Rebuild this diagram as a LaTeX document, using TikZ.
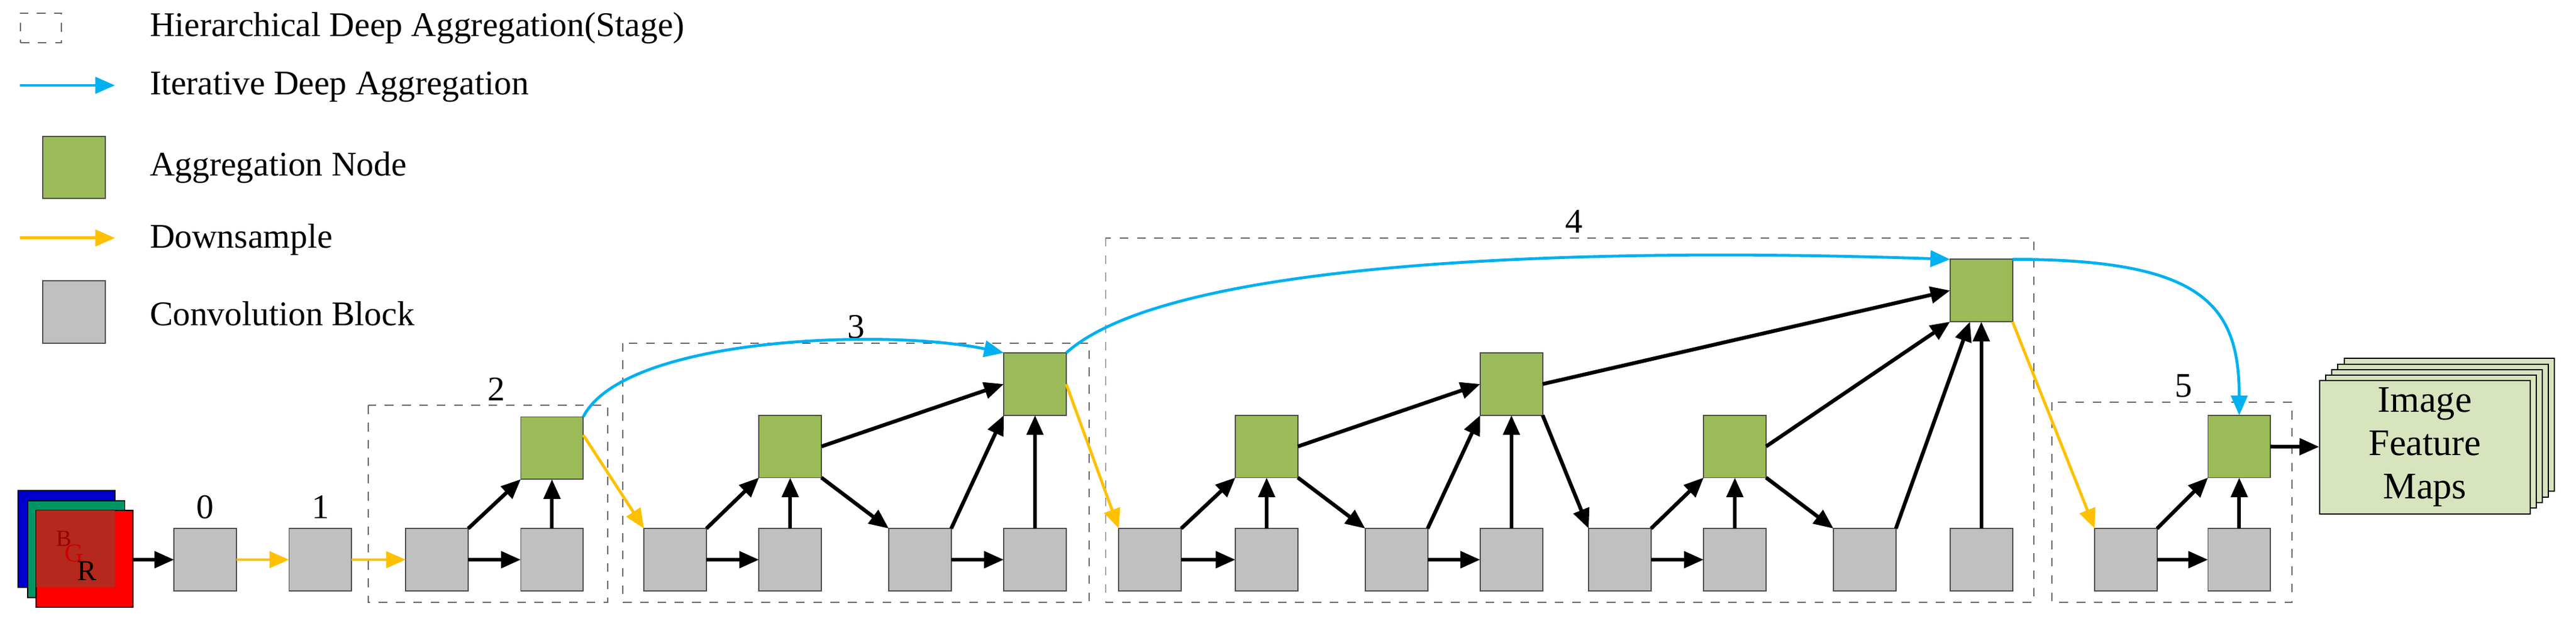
\documentclass[tikz,border=0pt]{standalone}
\usepackage{fontspec}
\setmainfont{Liberation Serif}
\usetikzlibrary{arrows.meta}
\definecolor{cgray}{HTML}{C0C0C0}
\definecolor{cgreen}{HTML}{9BBB59}
\definecolor{cyel}{HTML}{FFC000}
\definecolor{cblue}{HTML}{00B0F0}
\definecolor{cfeat}{HTML}{D7E4BD}
\begin{document}
\begin{tikzpicture}[x=0.02cm,y=-0.02cm,
  blk/.style={draw=black!70,line width=0.4pt,minimum size=0.76cm,inner sep=0,outer sep=0},
  conv/.style={blk,fill=cgray},
  agg/.style={blk,fill=cgreen},
  stage/.style={draw=black!60,dashed,line width=0.4pt},
  lab/.style={font=\fontsize{12}{14}\selectfont},
  ar/.style={line width=1.3pt,-{Triangle[length=2.4mm,width=2mm]}},
  bk/.style={ar,black},
  yl/.style={ar,cyel,line width=1pt},
  bl/.style={ar,cblue,line width=1pt}]
\useasboundingbox (0,0) rectangle (1568,378);
% legend
\node[stage,minimum width=0.5cm,minimum height=0.36cm] (l1) at (25,17) {};
\node[lab,anchor=west] (t1) at (85,17) {Hierarchical Deep Aggregation(Stage)};
\coordinate (l2a) at (12,52); \coordinate (l2b) at (70,52);
\draw[bl] (l2a) -- (l2b);
\node[lab,anchor=west] (t2) at (85,53) {Iterative Deep Aggregation};
\node[agg] (l3) at (45,102) {};
\node[lab,anchor=west] (t3) at (85,102) {Aggregation Node};
\coordinate (l4a) at (12,145); \coordinate (l4b) at (70,145);
\draw[yl] (l4a) -- (l4b);
\node[lab,anchor=west] (t4) at (85,146) {Downsample};
\node[conv] (l5) at (45,190) {};
\node[lab,anchor=west] (t5) at (85,191) {Convolution Block};
% stages
\draw[stage] (224,247) rectangle (370,367);
\draw[stage] (379,209) rectangle (663,367);
\draw[stage] (673,145) rectangle (1238,367);
\draw[stage] (1249,245) rectangle (1395,367);
\node[lab] (s0) at (125,309) {0};
\node[lab] (s1) at (195,309) {1};
\node[lab] (s2) at (302,237) {2};
\node[lab] (s3) at (521,199) {3};
\node[lab] (s4) at (958,135) {4};
\node[lab] (s5) at (1329,235) {5};
% input
\fill[fill=blue!80!black,draw=black] (11,299) rectangle (70,358);
\fill[fill={rgb,255:red,0;green,150;blue,100},draw=black] (17,305) rectangle (76,364);
\fill[fill=red,draw=black] (22,311) rectangle (81,370);
\fill[fill={rgb,255:red,180;green,40;blue,30}] (22,311) rectangle (70,358);
\node[font=\fontsize{8}{8}\selectfont,text=red!60!black,inner sep=0] (inB) at (39,328) {B};
\node[font=\fontsize{9}{9}\selectfont,text=red!80!black,inner sep=0] (inG) at (45,337) {G};
\node[font=\fontsize{10}{10}\selectfont,inner sep=0] (inR) at (53,348) {R};
\coordinate (in) at (81,341);
% blocks
\node[conv] (b0) at (125,341) {};
\node[conv] (b1) at (195,341) {};
\node[conv] (b2a) at (266,341) {};
\node[conv] (b2b) at (336,341) {};
\node[agg] (g2) at (336,273) {};
\node[conv] (b3a) at (411,341) {};
\node[conv] (b3b) at (481,341) {};
\node[conv] (b3c) at (560,341) {};
\node[conv] (b3d) at (630,341) {};
\node[agg] (g3a) at (481,272) {};
\node[agg] (g3b) at (630,234) {};
\node[conv] (b4a) at (700,341) {};
\node[conv] (b4b) at (771,341) {};
\node[conv] (b4c) at (850,341) {};
\node[conv] (b4d) at (920,341) {};
\node[conv] (b4e) at (986,341) {};
\node[conv] (b4f) at (1056,341) {};
\node[conv] (b4g) at (1135,341) {};
\node[conv] (b4h) at (1206,341) {};
\node[agg] (g4a) at (771,272) {};
\node[agg] (g4b) at (920,234) {};
\node[agg] (g4c) at (1056,272) {};
\node[agg] (g4d) at (1206,177) {};
\node[conv] (b5a) at (1294,341) {};
\node[conv] (b5b) at (1363,341) {};
\node[agg] (g5) at (1363,272) {};
% feature maps
\foreach \i in {4,3,2,1} {
  \fill[cfeat,draw=black,line width=0.4pt] (1412+3.7*\i,232-3.4*\i) rectangle (1540+3.7*\i,313-3.4*\i);
}
\node[draw=black,line width=0.4pt,fill=cfeat,minimum width=2.56cm,minimum height=1.62cm,align=center,inner sep=0,
  font=\fontsize{13}{15}\selectfont] (fm) at (1476,272.5) {Image\\Feature\\Maps};
% connectors
\draw[bk] (in) -- (b0);
\draw[yl] (b0) -- (b1);
\draw[yl] (b1) -- (b2a);
\draw[bk] (b2a) -- (b2b);
\draw[bk] (b2a.north east) -- (g2.south west);
\draw[bk] (b2b) -- (g2);
\draw[yl] (g2.east) ++(0,-8) -- (b3a.north west);
\draw[bk] (b3a) -- (b3b);
\draw[bk] (b3a.north east) -- (g3a.south west);
\draw[bk] (b3b) -- (g3a);
\draw[bk] (g3a.south east) -- (b3c.north west);
\draw[bk] (b3c) -- (b3d);
\draw[bk] (b3c.north east) -- (g3b.south west);
\draw[bk] (b3d) -- (g3b);
\draw[bk] (g3a.east) -- (g3b.west);
\draw[yl] (g3b.east) -- (b4a.north west);
\draw[bk] (b4a) -- (b4b);
\draw[bk] (b4a.north east) -- (g4a.south west);
\draw[bk] (b4b) -- (g4a);
\draw[bk] (g4a.east) -- (g4b.west);
\draw[bk] (g4a.south east) -- (b4c.north west);
\draw[bk] (b4c) -- (b4d);
\draw[bk] (b4c.north east) -- (g4b.south west);
\draw[bk] (b4d) -- (g4b);
\draw[bk] (g4b.south east) -- (b4e.north west);
\draw[bk] (b4e) -- (b4f);
\draw[bk] (b4e.north east) -- (g4c.south west);
\draw[bk] (b4f) -- (g4c);
\draw[bk] (g4c.south east) -- (b4g.north west);
\draw[bk] (g4c.east) -- (g4d.south west);
\draw[bk] (b4g.north east) -- (g4d.250);
\draw[bk] (b4h) -- (g4d);
\draw[bk] (g4b.east) -- (g4d.west);
\draw[yl] (g4d.south east) -- (b5a.north west);
\draw[bk] (b5a) -- (b5b);
\draw[bk] (b5a.north east) -- (g5.south west);
\draw[bk] (b5b) -- (g5);
\draw[bk] (g5) -- (fm);
\draw[bl] (g2.north east) .. controls (380,205) and (540,200) .. (g3b.north west);
\draw[bl] (g3b.north east) .. controls (710,160) and (950,150) .. (g4d.north west);
\draw[bl] (g4d.north east) .. controls (1340,158) and (1363,185) .. (g5.north);
\end{tikzpicture}
\end{document}
